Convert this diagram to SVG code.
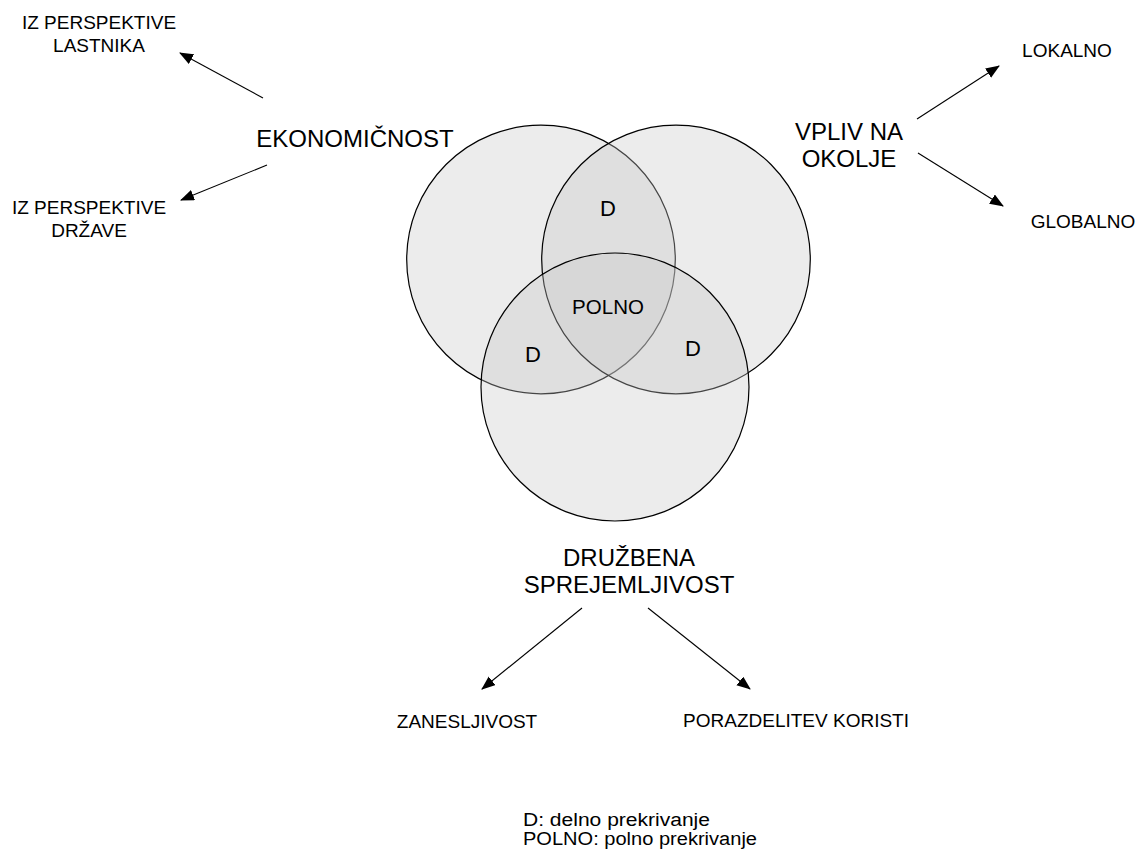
<svg xmlns="http://www.w3.org/2000/svg" width="1137" height="849" viewBox="0 0 1137 849">
<style>
text{font-family:"Liberation Sans",Arial,sans-serif;fill:#000}
.big{font-size:24px}
.sm{font-size:19px}
.venn{fill:#c8c8c8;fill-opacity:0.35;stroke:#000;stroke-width:1.2}
.conn{stroke:#000;stroke-width:1.1;fill:none;marker-end:url(#ah)}
</style>
<defs>
<marker id="ah" markerUnits="userSpaceOnUse" markerWidth="14" markerHeight="12" refX="13" refY="5.5" orient="auto">
<path d="M0,0 L14,5.5 L0,11 Z" fill="#000"/>
</marker>
</defs>
<rect width="1137" height="849" fill="#fff"/>
<g id="venn">
<circle id="c-ekonomicnost" class="venn" cx="541" cy="259.5" r="134.3"/>
<circle id="c-vpliv" class="venn" cx="676" cy="259.5" r="134.3"/>
<circle id="c-druzbena" class="venn" cx="615" cy="387" r="134"/>
<text x="608" y="216" font-size="22" text-anchor="middle">D</text>
<text x="608" y="314" font-size="20.5" text-anchor="middle">POLNO</text>
<text x="533" y="362" font-size="22" text-anchor="middle">D</text>
<text x="693" y="356" font-size="22" text-anchor="middle">D</text>
</g>
<g id="connectors">
<line class="conn" x1="263" y1="98" x2="180" y2="53"/>
<line class="conn" x1="267" y1="165" x2="181" y2="200"/>
<line class="conn" x1="917" y1="119" x2="999" y2="66"/>
<line class="conn" x1="918" y1="153" x2="1003" y2="206"/>
<line class="conn" x1="582" y1="608" x2="482" y2="689"/>
<line class="conn" x1="648" y1="608" x2="750" y2="689"/>
</g>
<g id="ekonomicnost"><text class="big" x="355" y="147" text-anchor="middle">EKONOMIČNOST</text></g>
<g id="vpliv"><text class="big" text-anchor="middle"><tspan x="849" y="140">VPLIV NA</tspan><tspan x="849" y="167">OKOLJE</tspan></text></g>
<g id="druzbena"><text class="big" text-anchor="middle"><tspan x="629" y="566">DRUŽBENA</tspan><tspan x="629" y="593">SPREJEMLJIVOST</tspan></text></g>
<g id="lastnika"><text class="sm" text-anchor="middle"><tspan x="99" y="29">IZ PERSPEKTIVE</tspan><tspan x="99" y="52">LASTNIKA</tspan></text></g>
<g id="drzave"><text class="sm" text-anchor="middle"><tspan x="89" y="214">IZ PERSPEKTIVE</tspan><tspan x="89" y="237">DRŽAVE</tspan></text></g>
<g id="lokalno"><text class="sm" x="1067" y="57" text-anchor="middle">LOKALNO</text></g>
<g id="globalno"><text class="sm" x="1083" y="228" text-anchor="middle">GLOBALNO</text></g>
<g id="zanesljivost"><text class="sm" x="467" y="728" text-anchor="middle">ZANESLJIVOST</text></g>
<g id="porazdelitev"><text class="sm" x="796" y="727" text-anchor="middle">PORAZDELITEV KORISTI</text></g>
<g id="legend">
<text font-size="18" x="523" y="826" textLength="187" lengthAdjust="spacingAndGlyphs">D: delno prekrivanje</text>
<text font-size="18" x="523" y="845" textLength="234" lengthAdjust="spacingAndGlyphs">POLNO: polno prekrivanje</text>
</g>
</svg>
